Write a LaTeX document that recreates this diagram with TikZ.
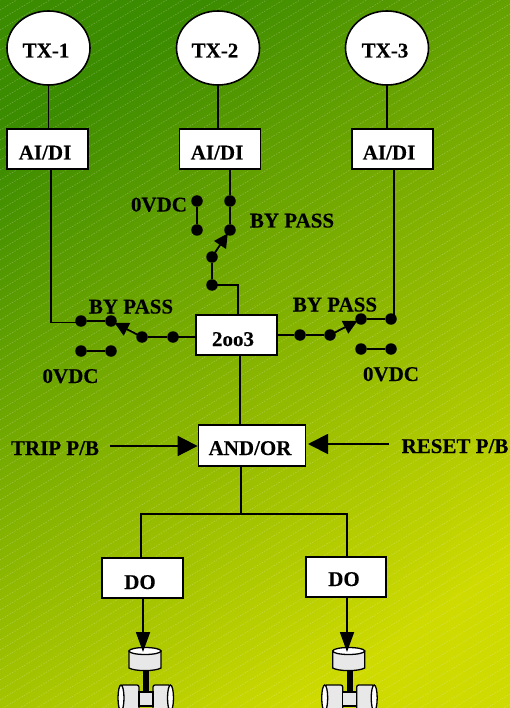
\documentclass[tikz,border=0pt]{standalone}
\usepackage{fontspec}
\setmainfont[BoldFeatures={FakeBold=0.25}]{Liberation Serif}
\usetikzlibrary{arrows.meta,shapes.geometric}
\definecolor{bgA}{HTML}{3C8C00}
\definecolor{bgB}{HTML}{CEDA00}
\definecolor{valvegrey}{HTML}{E8E8E8}
\tikzset{
  wire/.style={line width=1.8pt,black},
  tipwire/.style={wire,-{Triangle[length=20pt,width=20pt]}},
  smalltip/.style={wire,-{Triangle[length=20pt,width=14pt]}},
  swtip/.style={wire,-{Triangle[length=14pt,width=14pt]},shorten >=4pt},
  txnode/.style={draw=black,line width=1.6pt,fill=white,ellipse,minimum width=83pt,minimum height=74pt,inner sep=0pt},
  boxnode/.style={draw=black,line width=1.8pt,fill=white,rectangle,minimum width=81pt,minimum height=40pt,inner sep=0pt},
  dotnode/.style={circle,fill=black,minimum size=11.5pt,inner sep=0pt},
  lbl/.style={font=\fontsize{21}{21}\selectfont\bfseries,inner sep=0pt,text height=14pt,text depth=0pt,black},
  stripe/.style={white,opacity=.22,line width=.7pt,dash pattern=on 1.4pt off 1.4pt},
  valveline/.style={draw=black,line width=1.3pt,fill=valvegrey},
}
\newcommand{\valvedraw}[1]{%
  \begin{scope}[xshift=#1pt]
    \fill[black] (143,670) rectangle (149,693);
    \path[valveline,rounded corners=2pt] (121,685) -- (139,685) -- (139,711) -- (121,711) -- cycle;
    \path[draw=black,line width=1.3pt,fill=white] (121,698) ellipse (3pt and 13pt);
    \path[valveline,rounded corners=2pt] (153,685) -- (170.5,685) -- (170.5,711) -- (153,711) -- cycle;
    \path[draw=black,line width=1.3pt,fill=white] (170.5,698) ellipse (3pt and 13pt);
    \path[valveline] (139,692) rectangle (153,706);
    \path[valveline] (129,651) -- (129,668) .. controls (135,671.5) and (155,671.5) .. (161,668) -- (161,651) -- cycle;
    \path[draw=black,line width=1.3pt,fill=white] (145,651) ellipse (16pt and 3.5pt);
  \end{scope}}
\begin{document}
\begin{tikzpicture}[x=1pt,y=-1pt]
\useasboundingbox (0,0) rectangle (510,708);
\clip (0,0) rectangle (510,708);
\shade[top color=bgA,bottom color=bgB,shading angle=35.8] (0,0) rectangle (510,708);
\foreach \c in {0,10,...,1020}{\draw[stripe] (0,\c) -- (510,\c-306);}
% transmitters and input cards
\node[txnode] (tx1) at (48.5,48) {};
\node[txnode] (tx2) at (218,48) {};
\node[txnode] (tx3) at (387,48) {};
\node[boxnode] (ai1) at (47.8,149) {};
\node[boxnode] (ai2) at (220,149) {};
\node[boxnode] (ai3) at (392.5,149) {};
\node[lbl] (ttx1) at (46,50.5) {TX-1};
\node[lbl] (ttx2) at (215,50.5) {TX-2};
\node[lbl] (ttx3) at (385,50.5) {TX-3};
\node[lbl] (tai1) at (45,152.5) {AI/DI};
\node[lbl] (tai2) at (217,152.5) {AI/DI};
\node[lbl] (tai3) at (389,152.5) {AI/DI};
\draw[wire] (tx1.south) -- (tx1.south |- ai1.north);
\draw[wire] (tx2.south) -- (tx2.south |- ai2.north);
\draw[wire] (tx3.south) -- (tx3.south |- ai3.north);
% logic boxes
\node[boxnode] (vote) at (236.5,335) {};
\node[boxnode,minimum width=107pt,minimum height=41pt] (logic) at (252,445.5) {};
\node[boxnode] (do1) at (142.5,578) {};
\node[boxnode,minimum width=80pt] (do2) at (346,577) {};
\node[lbl] (tvote) at (233,339) {2oo3};
\node[lbl] (tlogic) at (250,448) {AND/OR};
\node[lbl] (tdo1) at (140,582) {DO};
\node[lbl] (tdo2) at (344,579) {DO};
% switch 2
\node[dotnode] (a1) at (197,201) {};
\node[dotnode] (a2) at (197,230) {};
\node[dotnode] (b1) at (230,201) {};
\node[dotnode] (b2) at (230,230) {};
\node[dotnode] (b3) at (212,257) {};
\node[dotnode] (b4) at (212,285) {};
\draw[wire] (a1) -- (a2);
\draw[wire] (b1) -- (b2);
\draw[wire] (b4) -- (b3);
\draw[swtip] (b3.center) -- (b2.center);
\draw[wire] (b1) -- (b1 |- ai2.south);
\draw[wire] (b4.center) -| (238,315);
% switch 1
\node[dotnode] (c1) at (81,321) {};
\node[dotnode] (c2) at (111,321) {};
\node[dotnode] (c3) at (142,337) {};
\node[dotnode] (c4) at (173,337) {};
\node[dotnode] (d1) at (81,351) {};
\node[dotnode] (d2) at (111,351) {};
\draw[wire] (c1) -- (c2);
\draw[wire] (d1) -- (d2);
\draw[wire] (c3) -- (c4);
\draw[swtip] (c3.center) -- (c2.center);
\draw[wire] (c4.center) -- (vote.west |- c4);
\coordinate (cin) at (51,322.5);
\draw[wire] (cin |- ai1.south) -- (cin) -- (cin -| c1);
% switch 3
\node[dotnode] (e1) at (300,335) {};
\node[dotnode] (e2) at (330,335) {};
\node[dotnode] (e3) at (361,319) {};
\node[dotnode] (e4) at (391,319) {};
\node[dotnode] (f1) at (361,349) {};
\node[dotnode] (f2) at (391,349) {};
\draw[wire] (vote.east |- e1) -- (e1) -- (e2);
\draw[swtip] (e2.center) -- (e3.center);
\draw[wire] (e3) -- (e4);
\draw[wire] (f1) -- (f2);
\coordinate (ein) at (394,319);
\draw[wire] (ein |- ai3.south) -- (ein);
% labels
\node[lbl] (t0a) at (159,204.5) {0VDC};
\node[lbl] (t0b) at (70.5,376) {0VDC};
\node[lbl] (t0c) at (391,374) {0VDC};
\node[lbl] (tba) at (292,220.5) {BY PASS};
\node[lbl] (tbb) at (131,306.5) {BY PASS};
\node[lbl] (tbc) at (335,304.5) {BY PASS};
\node[lbl] (ttrip) at (55,448) {TRIP P/B};
\node[lbl] (treset) at (455,446) {RESET P/B};
% logic wiring
\draw[wire] (240,355) -- (240,425);
\coordinate (tripstart) at (110,446);
\coordinate (resetstart) at (389,444);
\draw[tipwire] (tripstart) -- (tripstart -| logic.west);
\draw[tipwire] (resetstart) -- (308,444);
\coordinate (bus) at (241,514);
\draw[wire] (241,466) -- (bus);
\draw[wire] (141,558) -- (141,514) -- (347,514) -- (347,557);
% valves
\valvedraw{0}
\valvedraw{203.7}
\coordinate (v1) at (143,652);
\coordinate (v2) at (347,652);
\draw[smalltip] (v1 |- do1.south) -- (v1);
\draw[smalltip] (v2 |- do2.south) -- (v2);
\end{tikzpicture}
\end{document}
